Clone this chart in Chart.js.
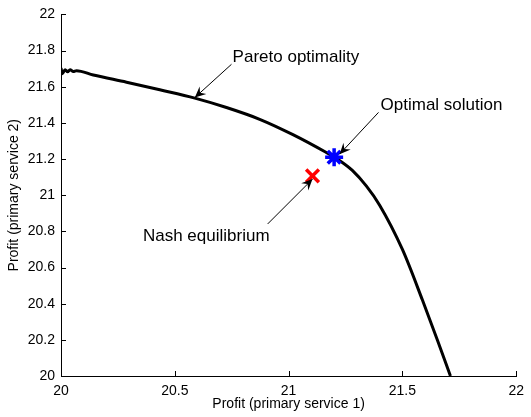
<!DOCTYPE html>
<html>
<head>
<meta charset="utf-8">
<script src="https://cdn.jsdelivr.net/npm/chart.js@4/dist/chart.umd.min.js"></script>
<style>
  body { margin: 0; background: #fff; }
  #wrap { width: 531px; height: 417px; }
</style>
</head>
<body>
<div id="wrap"><canvas id="paretoChart" width="531" height="417"></canvas></div>
<script>
// Pareto frontier
const frontX = [20.000, 20.006, 20.018, 20.029, 20.040, 20.054, 20.068, 20.142, 20.288, 20.434,
                20.588, 20.727, 20.873, 21.019, 21.160, 21.220, 21.280, 21.342, 21.400, 21.500,
                21.588, 21.654, 21.711];
const frontY = [21.703, 21.672, 21.694, 21.683, 21.694, 21.684, 21.689, 21.665, 21.625, 21.583,
                21.537, 21.485, 21.420, 21.335, 21.240, 21.195, 21.137, 21.050, 20.945, 20.700,
                20.420, 20.198, 20.000];

const optimalPoint = [21.20, 21.21];
const nashPoint = [21.105, 21.107];

const xTicks = [20, 20.5, 21, 21.5, 22];
const xTickLabels = ["20", "20.5", "21", "21.5", "22"];
const yTicks = [20, 20.2, 20.4, 20.6, 20.8, 21, 21.2, 21.4, 21.6, 21.8, 22];
const yTickLabels = ["20", "20.2", "20.4", "20.6", "20.8", "21", "21.2", "21.4", "21.6", "21.8", "22"];

// annotations: text, text anchor, arrow start, arrow tip (data coords)
const noteTexts = ["Pareto optimality", "Optimal solution", "Nash equilibrium"];
const noteAt = [[20.754, 21.739], [21.404, 21.474], [20.360, 20.748]];
const arrowFrom = [[20.749, 21.724], [21.395, 21.458], [20.908, 20.841]];
const arrowTo = [[20.588, 21.540], [21.224, 21.227], [21.105, 21.089]];

const FONT = "'Liberation Sans', Arial, Helvetica, sans-serif";

function drawArrow(ctx, x1, y1, x2, y2) {
    ctx.beginPath();
    ctx.moveTo(x1, y1);
    ctx.lineTo(x2, y2);
    ctx.stroke();
    let a = Math.atan2(y2 - y1, x2 - x1);
    let len = 11, half = 5, back = 7;
    ctx.save();
    ctx.translate(x2, y2);
    ctx.rotate(a);
    ctx.beginPath();
    ctx.moveTo(0, 0);
    ctx.lineTo(-len, -half);
    ctx.lineTo(-back, 0);
    ctx.lineTo(-len, half);
    ctx.closePath();
    ctx.fill();
    ctx.restore();
}

const extras = {
    id: "extras",
    afterDraw(chart) {
        let ctx = chart.ctx;
        let xs = chart.scales.x, ys = chart.scales.y;
        let area = chart.chartArea;
        ctx.save();
        ctx.strokeStyle = "#000";
        ctx.fillStyle = "#000";
        ctx.lineWidth = 1;

        // inward tick marks
        ctx.beginPath();
        xTicks.forEach(v => {
            let px = Math.round(xs.getPixelForValue(v)) + 0.5;
            ctx.moveTo(px, area.bottom);
            ctx.lineTo(px, area.bottom - 5);
        });
        yTicks.forEach(v => {
            let py = Math.round(ys.getPixelForValue(v)) + 0.5;
            ctx.moveTo(area.left, py);
            ctx.lineTo(area.left + 5, py);
        });
        ctx.stroke();

        // axis titles
        ctx.font = "14px " + FONT;
        ctx.textAlign = "center";
        ctx.textBaseline = "middle";
        ctx.fillText("Profit (primary service 1)", (area.left + area.right) / 2, 404);
        ctx.save();
        ctx.translate(14, (area.top + area.bottom) / 2);
        ctx.rotate(-Math.PI / 2);
        ctx.fillText("Profit (primary service 2)", 0, 0);
        ctx.restore();

        // annotations
        ctx.font = "17px " + FONT;
        ctx.textAlign = "left";
        ctx.textBaseline = "alphabetic";
        ctx.lineWidth = 1;
        noteTexts.forEach((t, i) => {
            ctx.fillText(t, xs.getPixelForValue(noteAt[i][0]), ys.getPixelForValue(noteAt[i][1]));
            drawArrow(ctx,
                xs.getPixelForValue(arrowFrom[i][0]), ys.getPixelForValue(arrowFrom[i][1]),
                xs.getPixelForValue(arrowTo[i][0]), ys.getPixelForValue(arrowTo[i][1]));
        });
        ctx.restore();
    }
};

let ctx = document.getElementById("paretoChart").getContext("2d");
new Chart(ctx, {
    type: "scatter",
    data: {
        datasets: [{
            label: "Pareto optimality",
            data: frontX.map((x, i) => ({ x: x, y: frontY[i] })),
            showLine: true,
            borderColor: "#000",
            borderWidth: 3,
            pointRadius: 0,
            cubicInterpolationMode: "monotone",
            order: 3
        }, {
            label: "Optimal solution",
            data: [{ x: optimalPoint[0], y: optimalPoint[1] }],
            pointStyle: "star",
            pointRadius: 9,
            borderColor: "#0000ff",
            backgroundColor: "#0000ff",
            pointBorderWidth: 3.5,
            order: 1
        }, {
            label: "Nash equilibrium",
            data: [{ x: nashPoint[0], y: nashPoint[1] }],
            pointStyle: "crossRot",
            pointRadius: 9,
            borderColor: "#ff0000",
            backgroundColor: "#ff0000",
            pointBorderWidth: 3.5,
            order: 2
        }]
    },
    options: {
        responsive: false,
        animation: false,
        layout: { padding: { top: 12, right: 14, left: 0, bottom: 0 } },
        plugins: {
            legend: { display: false },
            tooltip: { enabled: false }
        },
        scales: {
            x: {
                type: "linear",
                min: 20, max: 22,
                afterBuildTicks: s => { s.ticks = xTicks.map(v => ({ value: v })); },
                afterFit: s => { s.height = 41; },
                grid: { display: false, drawTicks: false },
                border: { display: true, color: "#000", width: 1 },
                ticks: {
                    color: "#000",
                    font: { size: 14, family: FONT },
                    padding: 7,
                    maxRotation: 0,
                    autoSkip: false,
                    callback: (v, i) => xTickLabels[i]
                }
            },
            y: {
                type: "linear",
                min: 20, max: 22,
                afterBuildTicks: s => { s.ticks = yTicks.map(v => ({ value: v })); },
                afterFit: s => { s.width = 61; },
                grid: { display: false, drawTicks: false },
                border: { display: true, color: "#000", width: 1 },
                ticks: {
                    color: "#000",
                    font: { size: 14, family: FONT },
                    padding: 6,
                    autoSkip: false,
                    callback: (v, i) => yTickLabels[i]
                }
            }
        }
    },
    plugins: [extras]
});
</script>
</body>
</html>
